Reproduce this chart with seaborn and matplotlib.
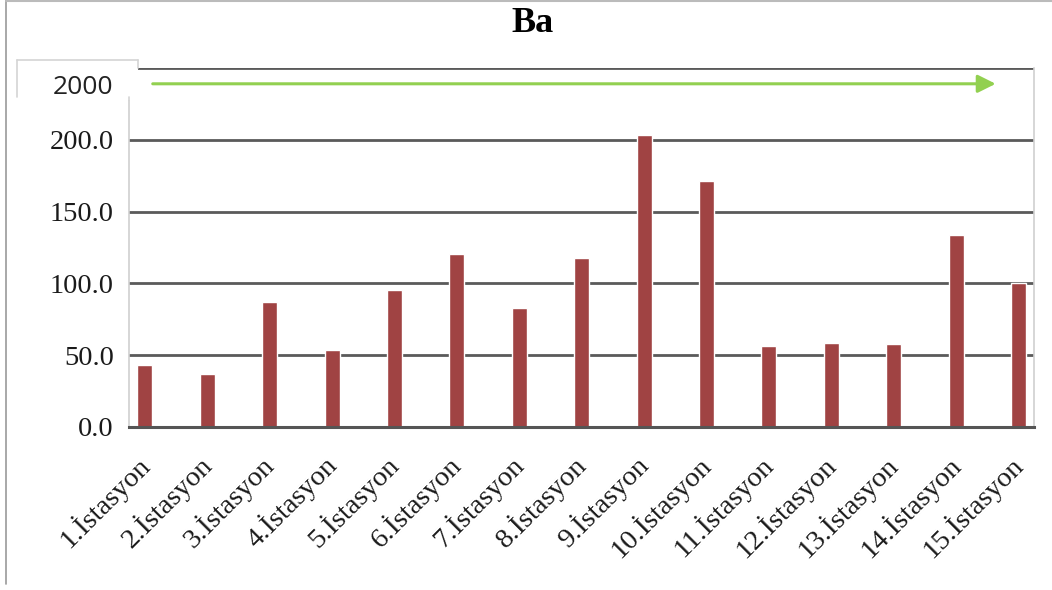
import numpy as np, pandas as pd, matplotlib
matplotlib.use('Agg')
import matplotlib.pyplot as plt
from matplotlib.patches import Rectangle
import seaborn as sns

# data
stations = ['%d.İstasyon' % i for i in range(1, 16)]
ba_values = [43.2, 37.0, 87.2, 53.7, 95.5, 120.6, 83.0, 117.9,
             203.6, 171.5, 56.5, 58.6, 57.9, 133.9, 100.4]
y_ticks = [0, 50, 100, 150, 200]
y_ticklabels = ['0.0', '50.0', '100.0', '150.0', '200.0']
box_label = '2000'
title = 'Ba'

sns.set_theme(style='white')
plt.rcParams['font.family'] = ['Liberation Serif', 'DejaVu Serif']

df = pd.DataFrame({'station': stations, 'Ba': ba_values})

fig = plt.figure(figsize=(10.52, 5.90), dpi=100)
ax = fig.add_axes([129/1052, 1 - 427/590, (1034 - 129)/1052, (427 - 68)/590])

sns.barplot(data=df, x='station', y='Ba', order=stations, color='#A04343',
            saturation=1, width=0.24, ax=ax)

ax.set_ylim(0, 250)
ax.set_xlim(-0.256, 14.25)
for v in [50, 100, 150, 200, 250]:
    ax.axhline(v, color='#5a5a5a', lw=2, zorder=0)
ax.set_yticks(y_ticks)
ax.set_yticklabels(y_ticklabels, fontsize=20.5, color='#1a1a1a')
ax.tick_params(axis='y', length=0, pad=11)
ax.set_xticks(range(len(stations)))
ax.set_xticklabels(stations, rotation=45, ha='right', va='center',
                   rotation_mode='anchor', fontsize=20.5, color='#1a1a1a')
ax.tick_params(axis='x', length=0, pad=24)
ax.set_xlabel('')
ax.set_ylabel('')

for s in ['left', 'right']:
    ax.spines[s].set_color('#d0d0d0')
    ax.spines[s].set_linewidth(1.2)
ax.spines['top'].set_visible(False)
ax.spines['bottom'].set_color('#555555')
ax.spines['bottom'].set_linewidth(2.2)

# green arrow near the top
ax.annotate('', xy=(13.68, 239), xytext=(0.08, 239),
            arrowprops=dict(arrowstyle='-|>,head_length=0.9,head_width=0.45',
                            color='#92D050', lw=2.2))

# white patch with "2000" over the top-left corner (open at the bottom)
fig.patches.append(Rectangle((17/1052, 1 - 100/590), 121/1052, 40/590,
                             transform=fig.transFigure, facecolor='white',
                             edgecolor='none', zorder=5))
edge = '#d4d4d4'
for xs, ys in [([17, 17], [97, 60]), ([17, 138], [60, 60]), ([138, 138], [60, 68])]:
    fig.add_artist(plt.Line2D([x/1052 for x in xs], [1 - y/590 for y in ys],
                              transform=fig.transFigure, color=edge, lw=1.2, zorder=6))
fig.add_artist(plt.Line2D([129/1052, 129/1052], [1 - 97/590, 1 - 100/590],
                          transform=fig.transFigure, color=edge, lw=1.2, zorder=6))
fig.text(83/1052, 1 - 88/590, box_label, ha='center', va='center',
         fontsize=19, family=['Open Sans', 'DejaVu Sans'], color='#222222', zorder=7)

# outer frame, left and top
fig.add_artist(plt.Line2D([6/1052, 6/1052], [0.01, 1], transform=fig.transFigure,
                          color='#999999', lw=1.2))
fig.add_artist(plt.Line2D([6/1052, 1], [0.999, 0.999], transform=fig.transFigure,
                          color='#bbbbbb', lw=1.5))

fig.text(533/1052, 1 - 23/590, title, ha='center', va='center',
         fontsize=26, fontweight='bold', color='black')

fig.savefig('out.png', dpi=100, facecolor='white')
